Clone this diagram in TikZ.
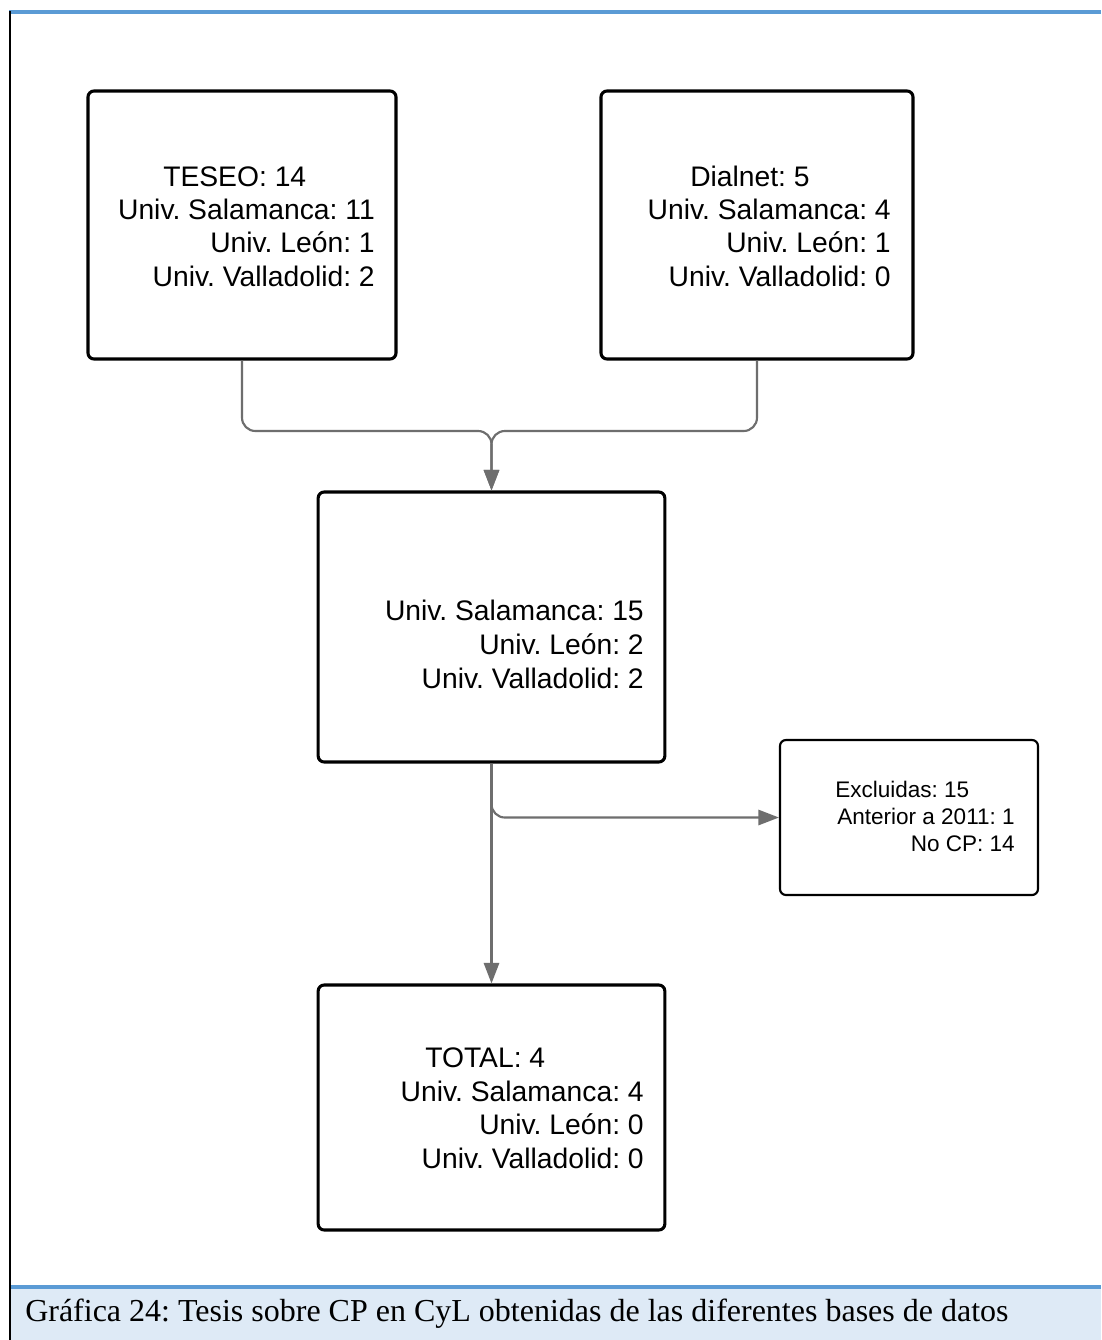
\documentclass[tikz,border=0pt]{standalone}
\usepackage{fontspec}
\setmainfont{Liberation Sans}
\newfontfamily\capfont{Liberation Serif}
\usetikzlibrary{arrows.meta}
\definecolor{blueline}{HTML}{5B9BD5}
\definecolor{capfill}{HTML}{DEEAF6}
\definecolor{conngray}{HTML}{6E6E6E}
\tikzset{
  bigbox/.style={draw=black, line width=2.3pt, rounded corners=4.5pt, inner sep=0pt},
  smallbox/.style={draw=black, line width=1.6pt, rounded corners=4.5pt, inner sep=0pt},
  bigtxt/.style={inner sep=0pt, font=\frenchspacing\fontsize{21.2}{25}\selectfont},
  smalltxt/.style={inner sep=0pt, font=\frenchspacing\fontsize{16.9}{20}\selectfont},
  conn/.style={draw=conngray, line width=1.6pt, rounded corners=10pt},
  tip/.style={-{Triangle[length=15.5pt,width=11.5pt]}}
}
\begin{document}
\frenchspacing
\begin{tikzpicture}[x=0.75pt,y=-0.75pt]
\useasboundingbox (0,0) rectangle (1101,1340);
\fill[white] (0,0) rectangle (1101,1340);
% frame and caption
\fill[capfill] (11,1289) rectangle (1101,1340);
\draw[blueline, line width=3pt] (9,12) -- (1101,12);
\draw[blueline, line width=3pt] (10,1287) -- (1101,1287);
\draw[black, line width=1.6pt] (10,10.5) -- (10,1340);
\node[anchor=base west, inner sep=0pt, font=\frenchspacing\capfont\fontsize{24}{29}\selectfont] (cap) at (25,1321)
  {Gráfica 24: Tesis sobre CP en CyL obtenidas de las diferentes bases de datos};

% boxes
\node[bigbox, minimum width=231pt, minimum height=201pt] (teseo) at (242,225) {};
\node[bigbox, minimum width=234pt, minimum height=201pt] (dialnet) at (757,225) {};
\node[bigbox, minimum width=260pt, minimum height=202.5pt] (mid) at (491.5,627) {};
\node[smallbox, minimum width=193.5pt, minimum height=116.25pt] (excl) at (909,817.5) {};
\node[bigbox, minimum width=260pt, minimum height=183.75pt] (total) at (491.5,1107.5) {};

% texts
\node[bigtxt, anchor=base west] (t1) at (163,186) {TESEO: 14};
\node[bigtxt, anchor=base east] (t2) at (375,219) {Univ. Salamanca: 11};
\node[bigtxt, anchor=base east] (t3) at (375,252) {Univ. León: 1};
\node[bigtxt, anchor=base east] (t4) at (375,286) {Univ. Valladolid: 2};

\node[bigtxt, anchor=base west] (d1) at (690,186) {Dialnet: 5};
\node[bigtxt, anchor=base east] (d2) at (891,219) {Univ. Salamanca: 4};
\node[bigtxt, anchor=base east] (d3) at (891,252) {Univ. León: 1};
\node[bigtxt, anchor=base east] (d4) at (891,286) {Univ. Valladolid: 0};

\node[bigtxt, anchor=base east] (m1) at (644,620) {Univ. Salamanca: 15};
\node[bigtxt, anchor=base east] (m2) at (644,654) {Univ. León: 2};
\node[bigtxt, anchor=base east] (m3) at (644,688) {Univ. Valladolid: 2};

\node[smalltxt, anchor=base west] (e1) at (835,797) {Excluidas: 15};
\node[smalltxt, anchor=base east] (e2) at (1015,824) {Anterior a 2011: 1};
\node[smalltxt, anchor=base east] (e3) at (1015,851) {No CP: 14};

\node[bigtxt, anchor=base west] (o1) at (425,1067) {TOTAL: 4};
\node[bigtxt, anchor=base east] (o2) at (644,1101) {Univ. Salamanca: 4};
\node[bigtxt, anchor=base east] (o3) at (644,1134) {Univ. León: 0};
\node[bigtxt, anchor=base east] (o4) at (644,1168) {Univ. Valladolid: 0};

% connectors
\coordinate (join) at (491.5,431);
\draw[conn, tip] (teseo.south) |- (join) -- (mid.north);
\draw[conn, tip] (dialnet.south) |- (join) -- (mid.north);
\draw[conn, tip] (mid.south) -- (total.north);
\draw[conn, tip] (mid.south) |- (excl.west);
\end{tikzpicture}
\end{document}
